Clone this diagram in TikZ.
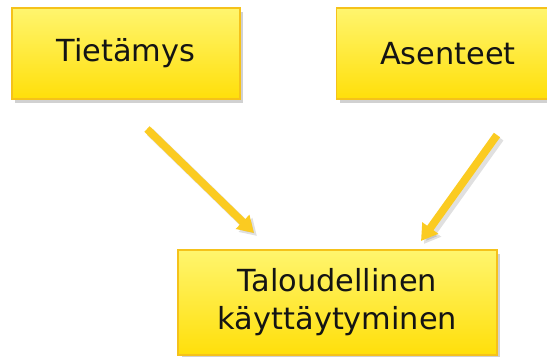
\documentclass[tikz,border=0pt]{standalone}
\usepackage{fontspec}
\setmainfont{DejaVu Sans}
\usepackage{xcolor}
\usepackage{tikz}
\usetikzlibrary{arrows.meta,positioning,calc,shadows}

\definecolor{boxtop}{HTML}{FFF56E}
\definecolor{boxbottom}{HTML}{FFDF0A}
\definecolor{boxedge}{HTML}{F5C21A}
\definecolor{arrowgold}{HTML}{FBCB21}

\begin{document}
\begin{tikzpicture}[
    x=0.75pt,y=-0.75pt,
    factor/.style={draw=boxedge,line width=1.2pt,top color=boxtop,bottom color=boxbottom,
      drop shadow={shadow xshift=2.5pt,shadow yshift=-3pt,opacity=0.3,fill=black!60},
      align=center,font=\fontsize{22.8}{28.5}\selectfont,text=black!92},
    influence/.style={-{Triangle[length=12pt,width=14pt]},line width=5.8pt,draw=arrowgold,
      preaction={draw=black,opacity=0.12,line width=6.5pt,transform canvas={shift={(2.2pt,-2.2pt)}}}}
  ]
    \useasboundingbox (0,0) rectangle (547,357);
    \clip (0,0) rectangle (547,357);

    % upper factors
    \node[factor,minimum width=171pt,minimum height=68pt] (tieto) at (126,53.5) {Tietämys};
    \node[factor,minimum width=167pt,minimum height=68pt] (asenne) at (448,53.5) {Asenteet};

    % outcome
    \node[factor,minimum width=239pt,minimum height=79pt] (kaytos) at (337.5,302.5)
      {Taloudellinen\\käyttäytyminen};

    % arrows
    \coordinate (a1) at (147,129);
    \coordinate (b1) at (254,233);
    \coordinate (a2) at (497,135);
    \coordinate (b2) at (421,241);
    \draw[influence] (a1) -- (b1);
    \draw[influence] (a2) -- (b2);
\end{tikzpicture}
\end{document}
